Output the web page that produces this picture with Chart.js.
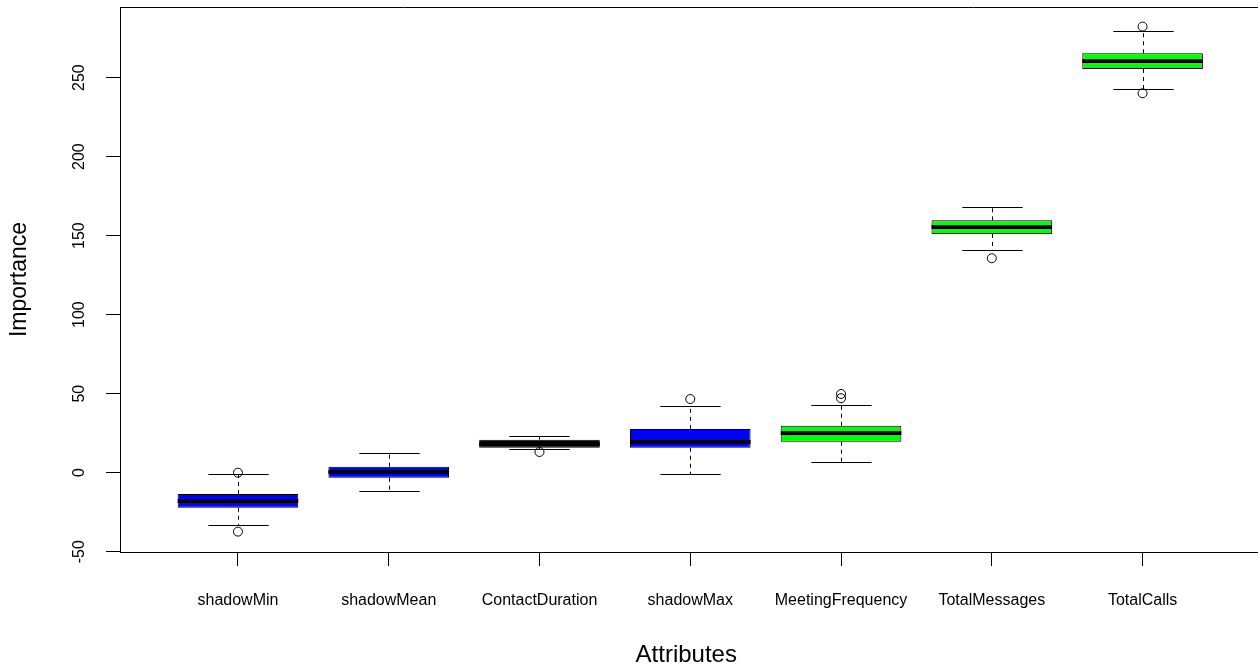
<!DOCTYPE html>
<html lang="en">
<head>
    <meta charset="UTF-8">
    <title>Attribute Importance</title>
    <script src="https://cdn.jsdelivr.net/npm/chart.js@4.4.1/dist/chart.umd.min.js"></script>
    <style>
        body { margin: 0; background: #fff; }
        canvas { display: block; }
    </style>
</head>
<body>
    <canvas id="boxChart" width="1258" height="668"></canvas>

    <script>
        // values
        const categories = ["shadowMin", "shadowMean", "ContactDuration", "shadowMax", "MeetingFrequency", "TotalMessages", "TotalCalls"];
        const whiskerLow  = [-33.3, -11.4, 15.0, -1.0,  6.8, 140.8, 242.7];
        const q1          = [-22.2,  -3.2, 15.8, 15.8, 19.6, 151.1, 255.5];
        const medians     = [-17.7,   0.3, 18.4, 19.2, 24.9, 155.3, 260.6];
        const q3          = [-13.5,   3.8, 20.9, 27.7, 29.7, 159.7, 265.4];
        const whiskerHigh = [ -1.0,  12.5, 23.2, 42.0, 42.8, 168.4, 279.4];
        const outliers    = [[0.0, -37.3], [], [13.1], [46.6], [49.8, 47.1], [135.7], [282.3, 240.1]];
        const yTicks      = [-50, 0, 50, 100, 150, 200, 250];

        const boxColors = ["#0000ff", "#0000ff", "#000000", "#0000ff", "#00ff00", "#00ff00", "#00ff00"];
        const FONT = "'Liberation Sans', Arial, sans-serif";

        Chart.defaults.font.family = FONT;
        Chart.defaults.color = "#000";

        const crisp = v => Math.round(v) + 0.5;

        const boxParts = {
            id: "boxParts",
            beforeDatasetsDraw(chart) {
                const { ctx, scales: { x, y } } = chart;
                const half = (x.getPixelForValue(1.2) - x.getPixelForValue(1));
                ctx.save();
                ctx.strokeStyle = "#000";
                ctx.lineWidth = 1;
                categories.forEach((c, i) => {
                    const cx = crisp(x.getPixelForValue(i + 1));
                    // dashed whiskers
                    ctx.setLineDash([4, 4]);
                    ctx.beginPath();
                    ctx.moveTo(cx, y.getPixelForValue(q3[i]));
                    ctx.lineTo(cx, y.getPixelForValue(whiskerHigh[i]));
                    ctx.moveTo(cx, y.getPixelForValue(q1[i]));
                    ctx.lineTo(cx, y.getPixelForValue(whiskerLow[i]));
                    ctx.stroke();
                    // staples
                    ctx.setLineDash([]);
                    ctx.beginPath();
                    [whiskerHigh[i], whiskerLow[i]].forEach(v => {
                        const py = crisp(y.getPixelForValue(v));
                        ctx.moveTo(cx - half, py);
                        ctx.lineTo(cx + half, py);
                    });
                    ctx.stroke();
                });
                ctx.restore();
            },
            afterDatasetsDraw(chart) {
                const { ctx, chartArea, scales: { x, y } } = chart;
                const half = (x.getPixelForValue(1.4) - x.getPixelForValue(1));
                ctx.save();
                // medians
                ctx.strokeStyle = "#000";
                ctx.lineWidth = 4;
                categories.forEach((c, i) => {
                    const cx = x.getPixelForValue(i + 1);
                    const py = Math.round(y.getPixelForValue(medians[i]));
                    ctx.beginPath();
                    ctx.moveTo(cx - half, py);
                    ctx.lineTo(cx + half, py);
                    ctx.stroke();
                });
                // top and bottom edges of the frame, running off the right side
                ctx.lineWidth = 1;
                ctx.beginPath();
                ctx.moveTo(chartArea.left, crisp(chartArea.top));
                ctx.lineTo(chart.width, crisp(chartArea.top));
                ctx.moveTo(chartArea.left, crisp(chartArea.bottom));
                ctx.lineTo(chart.width, crisp(chartArea.bottom));
                ctx.stroke();
                // rotated y tick labels
                ctx.fillStyle = "#000";
                ctx.font = "16px " + FONT;
                ctx.textAlign = "center";
                ctx.textBaseline = "middle";
                y.ticks.forEach(t => {
                    ctx.save();
                    ctx.translate(80, y.getPixelForValue(t.value));
                    ctx.rotate(-Math.PI / 2);
                    ctx.fillText(String(t.value), 0, 0);
                    ctx.restore();
                });
                ctx.restore();
            }
        };

        const boxData = categories.map((c, i) => ({ x: i + 1, y: [q1[i], q3[i]] }));
        const outlierData = [];
        outliers.forEach((list, i) => list.forEach(v => outlierData.push({ x: i + 1, y: v })));

        new Chart(document.getElementById("boxChart"), {
            type: "bar",
            data: {
                datasets: [{
                    type: "bar",
                    data: boxData,
                    backgroundColor: boxColors,
                    borderColor: "#000",
                    borderWidth: 1,
                    borderSkipped: false,
                    barPercentage: 0.8,
                    categoryPercentage: 1,
                    grouped: false
                }, {
                    type: "scatter",
                    data: outlierData,
                    pointRadius: 4.5,
                    pointBorderWidth: 1,
                    pointBorderColor: "#000",
                    pointBackgroundColor: "rgba(0,0,0,0)",
                    showLine: false
                }]
            },
            options: {
                responsive: false,
                animation: false,
                devicePixelRatio: 1,
                layout: { padding: { top: 7, left: 0, right: 0, bottom: 0 } },
                plugins: { legend: { display: false }, tooltip: { enabled: false } },
                scales: {
                    x: {
                        type: "linear",
                        offset: false,
                        min: 0.2177,
                        max: 7.729,
                        afterBuildTicks: s => { s.ticks = categories.map((c, i) => ({ value: i + 1 })); },
                        afterFit: s => { s.height = 116; },
                        ticks: {
                            callback: (v, i) => categories[i],
                            font: { size: 16 },
                            color: "#000",
                            padding: 25,
                            autoSkip: false,
                            maxRotation: 0,
                            minRotation: 0
                        },
                        grid: { offset: false, drawOnChartArea: false, drawTicks: true, tickLength: 14, color: "#000" },
                        border: { display: true, color: "#000", width: 1 },
                        title: {
                            display: true,
                            text: "Attributes",
                            font: { size: 24, lineHeight: 1 },
                            color: "#000",
                            padding: { top: 0, bottom: 1 }
                        }
                    },
                    y: {
                        type: "linear",
                        min: -50.2,
                        max: 294.7,
                        afterBuildTicks: s => { s.ticks = yTicks.map(v => ({ value: v })); },
                        afterFit: s => { s.width = 120; },
                        ticks: { display: false },
                        grid: { drawOnChartArea: false, drawTicks: true, tickLength: 14, color: "#000" },
                        border: { display: true, color: "#000", width: 1 },
                        title: {
                            display: true,
                            text: "Importance",
                            font: { size: 23, lineHeight: 1 },
                            color: "#000",
                            padding: { top: 8.5, bottom: 0 }
                        }
                    }
                }
            },
            plugins: [boxParts]
        });
    </script>
</body>
</html>
